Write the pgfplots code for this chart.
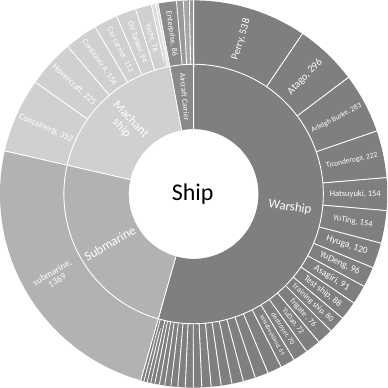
\documentclass[border=0pt]{standalone}
\usepackage{pgfplots}
\pgfplotsset{compat=1.18}
\usepackage{fontspec}
\setmainfont{Carlito}
\definecolor{cW}{HTML}{7F7F7F}
\definecolor{cS}{HTML}{B2B2B2}
\definecolor{cM}{HTML}{D0D0D0}
\definecolor{cM2}{HTML}{DCDCDC}
\definecolor{cA}{HTML}{8A8A8A}
\definecolor{cA2}{HTML}{999999}
\definecolor{cA3}{HTML}{A6A6A6}
\newcommand\lf[1]{\fontsize{#1}{#1}\selectfont}
% total of all values = 5662 -> degrees per unit
\pgfmathsetmacro\k{0.0635818}
\newcommand\setring[2]{\def\rin{#1}\def\rout{#2}\gdef\cum{0}}
\newcommand\seg[4]{%
 \pgfmathsetmacro\aS{90-\cum*\k}%
 \pgfmathsetmacro\aE{90-(\cum+#1)*\k}%
 \pgfmathsetmacro\bm{(\cum+#1/2)*\k}%
 \pgfmathsetmacro\am{90-\bm}%
 \pgfmathsetmacro\rot{\bm>180 ? \am+180 : \am}%
 \pgfmathsetmacro\rM{(\rin+\rout)/2}%
 \pgfmathsetmacro\lw{\rout-\rin}%
 \pgfmathsetmacro\lx{\rM*cos(\am)}%
 \pgfmathsetmacro\ly{\rM*sin(\am)}%
 \edef\tmp{%
  \noexpand\addplot[color=#2, line width=\lw pt, domain=\aE:\aS, samples=80, forget plot] ({\rM*cos(x)},{\rM*sin(x)});
  \noexpand\addplot[white, line width=0.8pt, domain=\rin:\rout, samples=2, forget plot] ({x*cos(\aS)},{x*sin(\aS)});
  \noexpand\addplot[white, line width=0.8pt, domain=\rin:\rout, samples=2, forget plot] ({x*cos(\aE)},{x*sin(\aE)});
  \noexpand\node[text=white, rotate=\rot, align=center, inner sep=0pt, font=\noexpand\lf{#3}] at (axis cs:\lx,\ly) {\unexpanded{#4}};
 }\tmp
 \pgfmathsetmacro\newcum{\cum+#1}\xdef\cum{\newcum}%
}
\begin{document}
\begin{tikzpicture}
\begin{axis}[width=388pt, height=388pt, scale only axis, xmin=-194, xmax=194, ymin=-194, ymax=194, hide axis, clip=false]
% inner ring
\setring{65}{130}
\seg{3080}{cW}{13}{Warship}
\seg{1369}{cS}{13}{Submarine}
\seg{1047}{cM}{12.5}{Machant\\ship}
\seg{166}{cA}{8}{Aircraft Carrier}
% outer ring
\setring{130}{194}
\seg{538}{cW}{10.5}{Perry, 538}
\seg{296}{cW}{10.5}{Atago, 296}
\seg{283}{cW}{7.5}{Arleigh Burke, 283}
\seg{222}{cW}{7.5}{Ticonderoga, 222}
\seg{154}{cW}{8.5}{Hatsuyuki, 154}
\seg{154}{cW}{8.5}{YuTing, 154}
\seg{120}{cW}{9.5}{Hyuga, 120}
\seg{96}{cW}{9.5}{YuDeng, 96}
\seg{91}{cW}{9.5}{Asagiri, 91}
\seg{88}{cW}{9}{Test ship, 88}
\seg{80}{cW}{8}{training ship, 80}
\seg{76}{cW}{8}{frigate , 76}
\seg{72}{cW}{7.5}{YuDao, 72}
\seg{70}{cW}{7}{destroyer, 70}
\seg{69}{cW}{6}{Whidbeyisland, 69}
\seg{67}{cW}{6}{}
\seg{63}{cW}{6}{}
\seg{58}{cW}{6}{}
\seg{54}{cW}{6}{}
\seg{51}{cW}{6}{}
\seg{47}{cW}{6}{}
\seg{44}{cW}{6}{}
\seg{40}{cW}{6}{}
\seg{37}{cW}{6}{}
\seg{35}{cW}{6}{}
\seg{32}{cW}{6}{}
\seg{29}{cW}{6}{}
\seg{25}{cW}{6}{}
\seg{22}{cW}{6}{}
\seg{19}{cW}{6}{}
\seg{17}{cW}{6}{}
\seg{16}{cW}{6}{}
\seg{15}{cW}{6}{}
\seg{1369}{cS}{9.5}{submarine,\\1369}
\seg{352}{cM}{9}{ContainerB, 352}
\seg{225}{cM}{9}{Hovercraft, 225}
\seg{156}{cM}{8}{Container A, 156}
\seg{112}{cM}{8}{Car carrier, 112}
\seg{94}{cM}{8}{Oil Tanker, 94}
\seg{76}{cM}{8}{Yacht, 76}
\seg{20}{cM2}{6}{}
\seg{12}{cM2}{6}{}
\seg{86}{cA}{8}{Enterprise, 86}
\seg{32}{cA2}{6}{}
\seg{28}{cA3}{6}{}
\seg{20}{cA2}{6}{}
\addplot[white, line width=0.9pt, domain=0:360, samples=240, forget plot] ({130*cos(x)},{130*sin(x)});
\node[font=\lf{24}] at (axis cs:-1,0) {Ship};
\end{axis}
\end{tikzpicture}
\end{document}
